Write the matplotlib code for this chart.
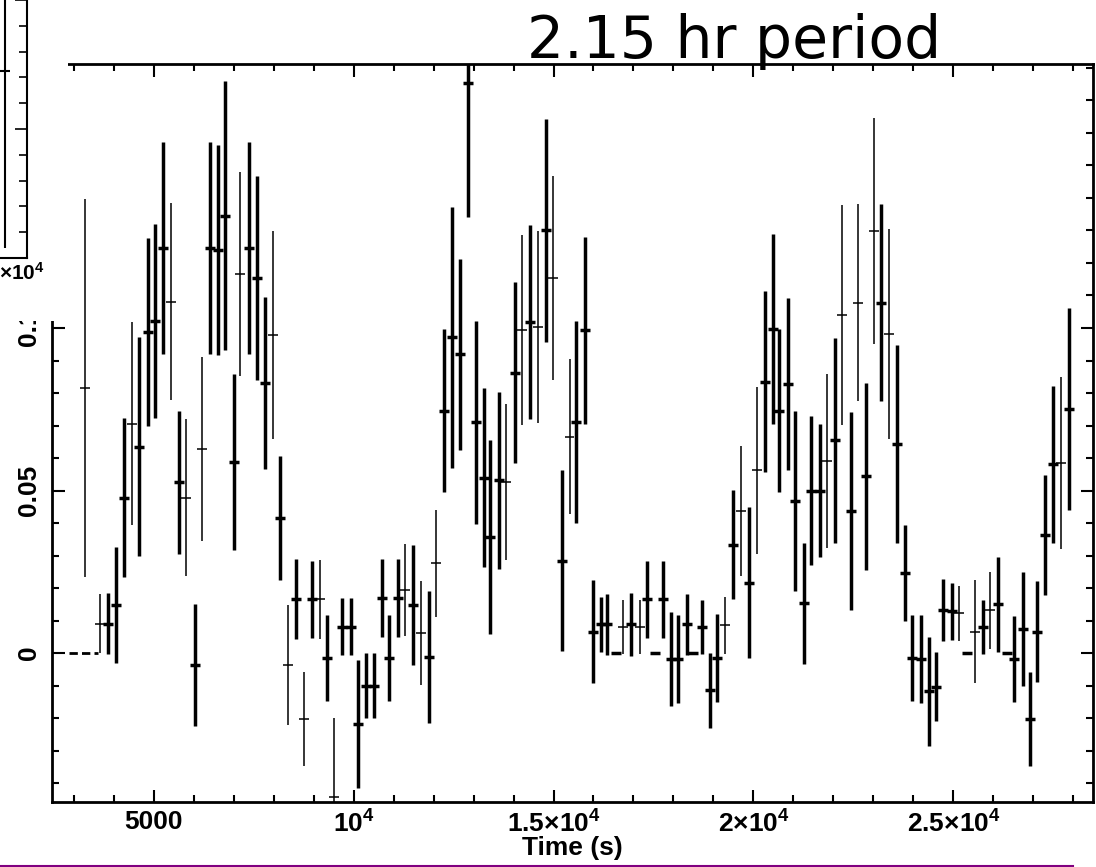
import numpy as np
import matplotlib
matplotlib.use('Agg')
import matplotlib.pyplot as plt
from matplotlib.ticker import MultipleLocator, FixedLocator
from matplotlib.patches import Rectangle
from matplotlib.lines import Line2D

plt.rcParams['font.family'] = 'Liberation Sans'
plt.rcParams['mathtext.fontset'] = 'custom'
plt.rcParams['mathtext.rm'] = 'Liberation Sans:bold'
plt.rcParams['mathtext.bf'] = 'Liberation Sans:bold'
plt.rcParams['mathtext.it'] = 'Liberation Sans:bold'

# light curve, bins drawn with heavy lines
thick_t = [3860, 4070, 4250, 4630, 4860, 5030, 5240, 5630, 6030, 6400, 6610, 6780,
           7000, 7390, 7580, 7790, 8160, 8550, 8950, 9330, 9720, 9940, 10100, 10310,
           10500, 10700, 10890, 11100, 11490, 11880, 12260, 12470, 12650, 12860, 13050,
           13250, 13420, 13630, 14030, 14420, 14800, 15200, 15570, 15790, 15980, 16190,
           16340, 16950, 17350, 17730, 17940, 18120, 18340, 18710, 18910, 19100, 19500,
           19880, 20280, 20490, 20650, 20870, 21050, 21260, 21450, 21660, 22030, 22430,
           22820, 23180, 23580, 23800, 23970, 24180, 24380, 24570, 24750, 24960, 25740,
           26110, 26520, 26740, 26920, 27100, 27300, 27490, 27900]
thick_rate = [0.0091, 0.0147, 0.0478, 0.0635, 0.0988, 0.1022, 0.1246, 0.0525, -0.0037,
              0.1246, 0.1240, 0.1346, 0.0588, 0.1246, 0.1154, 0.0831, 0.0415, 0.0165,
              0.0165, -0.0015, 0.0081, 0.0081, -0.0218, -0.0100, -0.0100, 0.0169,
              -0.0015, 0.0169, 0.0147, -0.0012, 0.0746, 0.0971, 0.0919, 0.1754, 0.0710,
              0.0540, 0.0357, 0.0532, 0.0863, 0.1018, 0.1301, 0.0284, 0.0710, 0.0993,
              0.0066, 0.0088, 0.0088, 0.0088, 0.0165, 0.0165, -0.0019, -0.0019, 0.0088,
              0.0081, -0.0115, -0.0015, 0.0334, 0.0216, 0.0835, 0.0997, 0.0746, 0.0828,
              0.0468, 0.0154, 0.0500, 0.0500, 0.0654, 0.0438, 0.0544, 0.1078, 0.0644,
              0.0247, -0.0015, -0.0018, -0.0118, -0.0103, 0.0132, 0.0128, 0.0081, 0.0150,
              -0.0018, 0.0074, -0.0203, 0.0066, 0.0363, 0.0581, 0.0750]
thick_err = [0.0094, 0.0178, 0.0244, 0.0336, 0.0288, 0.0298, 0.0326, 0.0219, 0.0188,
             0.0326, 0.0322, 0.0413, 0.0270, 0.0326, 0.0315, 0.0265, 0.0190, 0.0123,
             0.0119, 0.0131, 0.0087, 0.0087, 0.0196, 0.0101, 0.0101, 0.0120, 0.0131,
             0.0120, 0.0184, 0.0204, 0.0252, 0.0402, 0.0294, 0.0413, 0.0313, 0.0274,
             0.0298, 0.0272, 0.0278, 0.0299, 0.0343, 0.0279, 0.0311, 0.0288, 0.0158,
             0.0084, 0.0094, 0.0096, 0.0119, 0.0118, 0.0145, 0.0135, 0.0094, 0.0083,
             0.0114, 0.0136, 0.0168, 0.0232, 0.0279, 0.0293, 0.0250, 0.0265, 0.0278,
             0.0186, 0.0228, 0.0204, 0.0314, 0.0305, 0.0288, 0.0304, 0.0305, 0.0147,
             0.0133, 0.0136, 0.0167, 0.0107, 0.0096, 0.0088, 0.0083, 0.0147, 0.0132,
             0.0174, 0.0145, 0.0156, 0.0185, 0.0241, 0.0311]

# bins drawn with light lines
thin_t = [3280, 3670, 4460, 5440, 5820, 6210, 7160, 7980, 8370, 8750, 9150, 9520,
          11280, 11680, 12070, 13820, 14220, 14610, 14990, 15400, 16750, 17160, 19300,
          19690, 20080, 21850, 22220, 22620, 23010, 23390, 25150, 25550, 25920, 27700]
thin_rate = [0.0816, 0.0091, 0.0706, 0.1081, 0.0478, 0.0629, 0.1166, 0.0978, -0.0037,
             -0.0203, 0.0165, -0.0444, 0.0194, 0.0063, 0.0276, 0.0526, 0.0993, 0.1003,
             0.1154, 0.0666, 0.0081, 0.0081, 0.0085, 0.0437, 0.0562, 0.0591, 0.1040,
             0.1078, 0.1299, 0.0982, 0.0122, 0.0066, 0.0132, 0.0584]
thin_err = [0.0581, 0.0092, 0.0313, 0.0304, 0.0241, 0.0283, 0.0313, 0.0320, 0.0184,
            0.0145, 0.0121, 0.0245, 0.0142, 0.0160, 0.0165, 0.0240, 0.0292, 0.0294,
            0.0313, 0.0238, 0.0083, 0.0083, 0.0089, 0.0201, 0.0257, 0.0268, 0.0339,
            0.0304, 0.0348, 0.0322, 0.0085, 0.0158, 0.0118, 0.0265]

# empty bins (rate 0, no error)
zero_t = [16560, 17540, 18480, 25350, 26340]
dash_t = [2880, 3620]

xticks = [5000, 10000, 15000, 20000, 25000]
xticklabels = ['5000', r'$10^4$', r'1.5×$10^4$', r'2×$10^4$', r'2.5×$10^4$']
yticks = [0, 0.05, 0.1]
yticklabels = ['0', '0.05', '0.1']

# piece of the neighbouring panel in the top left corner
side_t = [27940]
side_rate = [0.0725]
side_err = [0.0686]

W, H = 1096, 867
fig = plt.figure(figsize=(W / 100, H / 100), dpi=100)
ax = fig.add_axes([52 / W, 65 / H, 1041 / W, 738 / H])

ax.errorbar(thick_t, thick_rate, yerr=thick_err, xerr=125, fmt='none', ecolor='k',
            elinewidth=2.5, capsize=0)
ax.errorbar(thin_t, thin_rate, yerr=thin_err, xerr=125, fmt='none', ecolor='k',
            elinewidth=1.1, capsize=0)
ax.errorbar(zero_t, np.zeros(len(zero_t)), xerr=125, fmt='none', ecolor='k',
            elinewidth=2.5, capsize=0)
ax.plot(dash_t, [0, 0], color='k', lw=2, dashes=(3, 1.5))

ax.set_xlim(2460, 28490)
ax.set_ylim(-0.0458, 0.1812)
ax.xaxis.set_major_locator(FixedLocator(xticks))
ax.xaxis.set_minor_locator(MultipleLocator(1000))
ax.set_xticklabels(xticklabels)
ax.set_yticks(yticks)
ax.set_yticklabels(yticklabels, rotation=90, va='center')
ax.yaxis.set_minor_locator(MultipleLocator(0.01))
ax.tick_params(which='both', direction='in', top=True, right=True, width=1.5,
               labelsize=19)
ax.tick_params(which='major', length=9, pad=6)
ax.tick_params(which='minor', length=5)
ax.tick_params(axis='y', pad=8)
for lab in ax.get_xticklabels() + ax.get_yticklabels():
    lab.set_fontweight('bold')
for s in ax.spines.values():
    s.set_linewidth(2)
ax.set_xlabel('Time (s)', fontsize=19, fontweight='bold', labelpad=-1)

# white cover + neighbouring panel fragment
fig.add_artist(Rectangle((0, 1 - 321 / H), 68 / W, 321 / H, transform=fig.transFigure,
                         facecolor='white', edgecolor='none', zorder=5))
ax2 = fig.add_axes([-0.2, 1 - 258 / H, 0.2 + 27 / W, 258 / H])
ax2.set_zorder(6)
ax2.patch.set_alpha(0)
ax2.errorbar(side_t, side_rate, yerr=side_err, xerr=125, fmt='none', ecolor='k',
             elinewidth=1.5, capsize=0)
ax2.set_xlim(22340, 28490)
ax2.set_ylim(0, 0.1)
ax2.spines['left'].set_visible(False)
ax2.spines['top'].set_visible(False)
ax2.spines['right'].set_linewidth(1.5)
ax2.spines['bottom'].set_linewidth(1.5)
ax2.set_xticks([])
ax2.yaxis.tick_right()
ax2.yaxis.set_major_locator(MultipleLocator(0.05))
ax2.yaxis.set_minor_locator(MultipleLocator(0.01))
ax2.tick_params(which='both', direction='in', width=1.2, labelright=False)
ax2.tick_params(which='major', length=9)
ax2.tick_params(which='minor', length=6)
fig.text(45 / W, 1 - 273 / H, r'×$10^4$', ha='right', va='center', fontsize=15,
         fontweight='bold', zorder=7)

fig.text(527 / W, 1 - 58 / H, '2.15 hr period', fontsize=42, family='DejaVu Sans',
         ha='left', va='baseline')
fig.add_artist(Line2D([0, 1073 / W], [1 / H, 1 / H], color='#800080', lw=1.5,
                      transform=fig.transFigure))

fig.savefig('out.png', dpi=100)
